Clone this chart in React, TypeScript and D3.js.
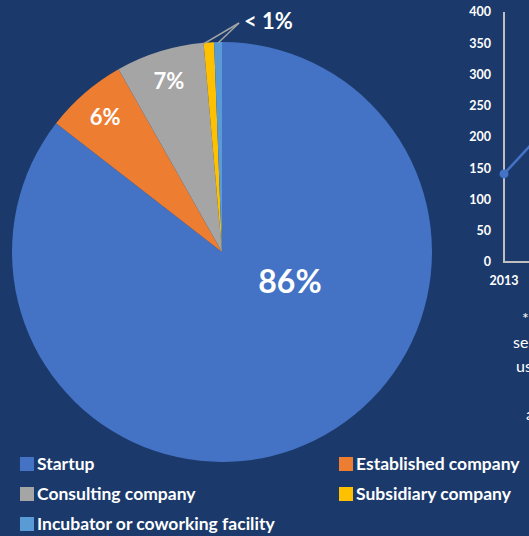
import React from 'react';
import * as d3 from 'd3';

const categories = ['Startup', 'Established company', 'Consulting company', 'Subsidiary company', 'Incubator or coworking facility'];
const shares = [85.5, 6.3, 6.8, 0.8, 0.6];
const labels = ['86%', '6%', '7%', '', ''];
const colors = ['#4472C4', '#ED7D31', '#A5A5A5', '#FFC000', '#5B9BD5'];

const years = ['2013', '2014', '2015'];
const counts = [141, 245, 330];
const yTicks = [0, 50, 100, 150, 200, 250, 300, 350, 400];

const noteLines = ['*', 'se', 'us', '', 'a'];
const noteX = [522, 513, 516, 540, 526];

const W = 529;
const H = 536;
const BG = '#1B3A6B';
const FONT = 'Lato, "Open Sans", sans-serif';

export default function App() {
  const cx = 222;
  const cy = 252;
  const R = 210;

  const pie = d3.pie<number>().value(d => d).sort(null);
  const arcs = pie(shares);
  const arc = d3.arc<d3.PieArcDatum<number>>().innerRadius(0).outerRadius(R);
  const labelArc = d3.arc<d3.PieArcDatum<number>>().innerRadius(R * 0.85).outerRadius(R * 0.85);

  // the two tiny slices share one label with leader lines
  const small = arcs.slice(3);
  const smallLabel = { x: 244, y: 21 };
  const leaderEnd = { x: 239, y: 23 };

  // line chart (mostly cut off at the right)
  const y = d3.scaleLinear().domain([0, 400]).range([262, 12]);
  const x = d3.scalePoint<string>().domain(years).range([504, 504 + 60 * (years.length - 1)]);
  const line = d3.line<number>().x((_, i) => x(years[i])!).y(d => y(d));

  const legendRows = [
    [0, 1],
    [2, 3],
    [4],
  ];

  return (
    <svg width={W} height={H} style={{ position: 'absolute', left: 0, top: 0, background: BG }} fontFamily={FONT}>
      <rect width={W} height={H} fill={BG} />
      <g transform={`translate(${cx},${cy})`}>
        {arcs.map((a, i) => (
          <path key={i} d={arc(a)!} fill={colors[i]} />
        ))}
        {arcs.map((a, i) => {
          if (!labels[i]) return null;
          const [lx, ly] = i === 0 ? [68, 30] : labelArc.centroid(a);
          return (
            <text key={i} x={lx} y={ly} dy="0.35em" textAnchor="middle" fill="#fff" fontWeight={700}
              fontSize={i === 0 ? 32 : 22}>
              {labels[i]}
            </text>
          );
        })}
      </g>
      {small.map((a, i) => {
        const ang = i === 0 ? a.startAngle : (a.startAngle + a.endAngle) / 2;
        return (
          <line key={i} x1={cx + Math.sin(ang) * R} y1={cy - Math.cos(ang) * R + 1}
            x2={leaderEnd.x} y2={leaderEnd.y} stroke="#A5A5A5" strokeWidth={1.5} />
        );
      })}
      <text x={smallLabel.x} y={smallLabel.y} dy="0.35em" fill="#fff" fontWeight={700} fontSize={22}>
        {'< 1%'}
      </text>

      {/* line chart */}
      {yTicks.map(t => (
        <text key={t} x={491} y={y(t)} dy="0.35em" textAnchor="end" fill="#fff" fontWeight={700} fontSize={12.5}>
          {t}
        </text>
      ))}
      <path d={`M504,${y(400)}V${y(0)}H${W + 10}`} fill="none" stroke="#BFBFBF" strokeWidth={2} />
      <path d={line(counts)!} fill="none" stroke="#4472C4" strokeWidth={2.5} />
      <circle cx={x(years[0])} cy={y(counts[0])} r={4.5} fill="#4472C4" />
      {years.map(yr => (
        <text key={yr} x={x(yr)} y={281} dy="0.35em" textAnchor="middle" fill="#fff" fontWeight={700} fontSize={12.5}>
          {yr}
        </text>
      ))}
      {noteLines.map((t, i) => (
        <text key={i} x={noteX[i]} y={318 + i * 24} dy="0.35em" fill="#fff" fontSize={16}>
          {t}
        </text>
      ))}

      {/* legend */}
      {legendRows.map((row, r) =>
        row.map((ci, c) => (
          <g key={ci} transform={`translate(${c === 0 ? 20 : 339},${464 + r * 30})`}>
            <rect x={0} y={-7} width={14} height={14} fill={colors[ci]} />
            <text x={17} y={0} dy="0.35em" fill="#fff" fontWeight={700} fontSize={17.5}>
              {categories[ci]}
            </text>
          </g>
        ))
      )}
    </svg>
  );
}
